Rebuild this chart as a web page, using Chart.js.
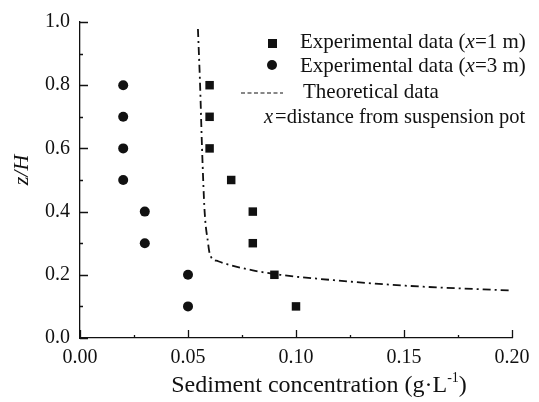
<!DOCTYPE html>
<html>
<head>
<meta charset="utf-8">
<script src="https://cdn.jsdelivr.net/npm/chart.js@4"></script>
<style>
	html, body { margin: 0; padding: 0; background: #fff; }
	#wrap { width: 539px; height: 402px; }
</style>
</head>
<body>
<div id="wrap"><canvas id="chart" width="539" height="402"></canvas></div>
<script>
(function () {
	'use strict';

	// Experimental data, x = 1 m (squares)
	var exp1X = [0.06, 0.06, 0.06, 0.07, 0.08, 0.08, 0.09, 0.10];
	var exp1Y = [0.8, 0.7, 0.6, 0.5, 0.4, 0.3, 0.2, 0.1];

	// Experimental data, x = 3 m (circles)
	var exp3X = [0.02, 0.02, 0.02, 0.02, 0.03, 0.03, 0.05, 0.05];
	var exp3Y = [0.8, 0.7, 0.6, 0.5, 0.4, 0.3, 0.2, 0.1];

	// Theoretical curve
	var theoX = [0.0546, 0.0556, 0.0565, 0.0577, 0.0593, 0.0598, 0.0608, 0.0640, 0.0700, 0.0800, 0.0926, 0.111, 0.1495, 0.200];
	var theoY = [0.978, 0.800, 0.600, 0.400, 0.300, 0.275, 0.255, 0.243, 0.230, 0.214, 0.200, 0.187, 0.166, 0.150];

	var SERIF = '"Liberation Serif", "DejaVu Serif", serif';
	var INK = '#111';

	function pts(xs, ys) {
		return xs.map(function (x, i) { return { x: x, y: ys[i] }; });
	}

	function near(v, step) {
		return Math.abs(v / step - Math.round(v / step)) < 1e-6;
	}

	// inward ticks, major + minor
	var inwardTicks = {
		id: 'inwardTicks',
		afterDraw: function (chart) {
			var c = chart.ctx, xs = chart.scales.x, ys = chart.scales.y, a = chart.chartArea;
			c.save();
			c.strokeStyle = INK;
			c.lineWidth = 1.3;
			c.beginPath();
			xs.ticks.forEach(function (t) {
				var px = Math.round(xs.getPixelForValue(t.value)) + 0.5;
				var len = near(t.value, 0.05) ? 8 : 3;
				c.moveTo(px, a.bottom);
				c.lineTo(px, a.bottom - len);
			});
			ys.ticks.forEach(function (t) {
				var py = Math.round(ys.getPixelForValue(t.value)) + 0.5;
				var len = near(t.value, 0.2) ? 8 : 3;
				c.moveTo(a.left, py);
				c.lineTo(a.left + len, py);
			});
			c.stroke();
			c.restore();
		}
	};

	function drawRich(c, parts, x, y, size) {
		parts.forEach(function (p) {
			c.font = (p.italic ? 'italic ' : '') + (p.size || size) + 'px ' + SERIF;
			var dy = p.sup ? -8 : 0;
			c.fillText(p.t, x, y + dy);
			x += c.measureText(p.t).width + (p.gap || 0);
		});
		return x;
	}

	function richWidth(c, parts, size) {
		var w = 0;
		parts.forEach(function (p) {
			c.font = (p.italic ? 'italic ' : '') + (p.size || size) + 'px ' + SERIF;
			w += c.measureText(p.t).width + (p.gap || 0);
		});
		return w;
	}

	// legend and axis titles
	var annotations = {
		id: 'annotations',
		afterDraw: function (chart) {
			var c = chart.ctx;
			c.save();
			c.fillStyle = INK;
			c.strokeStyle = INK;
			c.textBaseline = 'middle';
			c.textAlign = 'left';

			// legend markers
			c.fillRect(268, 39, 9, 9);
			c.beginPath();
			c.arc(272, 65, 5, 0, Math.PI * 2);
			c.fill();
			c.lineWidth = 1.2;
			c.setLineDash([4, 2.5]);
			c.beginPath();
			c.moveTo(241, 93);
			c.lineTo(283, 93);
			c.stroke();
			c.setLineDash([]);

			var fs = 21;
			drawRich(c, [{ t: 'Experimental data (' }, { t: 'x', italic: true }, { t: '=1 m)' }], 300, 42, fs);
			drawRich(c, [{ t: 'Experimental data (' }, { t: 'x', italic: true }, { t: '=3 m)' }], 300, 66, fs);
			drawRich(c, [{ t: 'Theoretical data' }], 303, 92, fs);
			drawRich(c, [{ t: 'x', italic: true, gap: 2 }, { t: '=distance from suspension pot' }], 264, 118, 20.5);

			// x title
			var xt = [{ t: 'Sediment concentration (g\u00B7L' }, { t: '-1', sup: true, size: 14 }, { t: ')' }];
			var w = richWidth(c, xt, 24);
			drawRich(c, xt, 319 - w / 2, 386, 24);

			// y title
			c.translate(22, 170);
			c.rotate(-Math.PI / 2);
			c.textAlign = 'center';
			c.font = 'italic 22px ' + SERIF;
			c.fillText('z/H', 0, 0);
			c.restore();
		}
	};

	new Chart(document.getElementById('chart'), {
		type: 'scatter',
		data: {
			datasets: [
				{
					label: 'Theoretical data',
					data: pts(theoX, theoY),
					showLine: true,
					borderColor: INK,
					borderWidth: 1.8,
					borderDash: [8, 4, 2, 4],
					pointRadius: 0,
					cubicInterpolationMode: 'monotone',
					fill: false
				},
				{
					label: 'Experimental data (x=1 m)',
					data: pts(exp1X, exp1Y),
					pointStyle: 'rect',
					pointRadius: 6,
					backgroundColor: INK,
					borderColor: INK,
					borderWidth: 0
				},
				{
					label: 'Experimental data (x=3 m)',
					data: pts(exp3X, exp3Y),
					pointStyle: 'circle',
					pointRadius: 5,
					backgroundColor: INK,
					borderColor: INK,
					borderWidth: 0
				}
			]
		},
		options: {
			responsive: false,
			animation: false,
			layout: { padding: { left: 0, right: 27, top: 18, bottom: 0 } },
			plugins: { legend: { display: false }, tooltip: { enabled: false } },
			scales: {
				x: {
					type: 'linear',
					min: 0, max: 0.2,
					afterFit: function (s) { s.height = 64; },
					grid: { display: false, drawTicks: false },
					border: { display: true, color: INK, width: 1.3 },
					ticks: {
						stepSize: 0.025,
						padding: 8,
						color: INK,
						font: { family: SERIF, size: 20 },
						callback: function (v) { return near(v, 0.05) ? v.toFixed(2) : ''; }
					}
				},
				y: {
					type: 'linear',
					min: 0, max: 1,
					afterFit: function (s) { s.width = 80; },
					grid: { display: false, drawTicks: false },
					border: { display: true, color: INK, width: 1.3 },
					ticks: {
						stepSize: 0.1,
						padding: 10,
						color: INK,
						font: { family: SERIF, size: 20 },
						callback: function (v) { return near(v, 0.2) ? v.toFixed(1) : ''; }
					}
				}
			}
		},
		plugins: [inwardTicks, annotations]
	});
})();
</script>
</body>
</html>
